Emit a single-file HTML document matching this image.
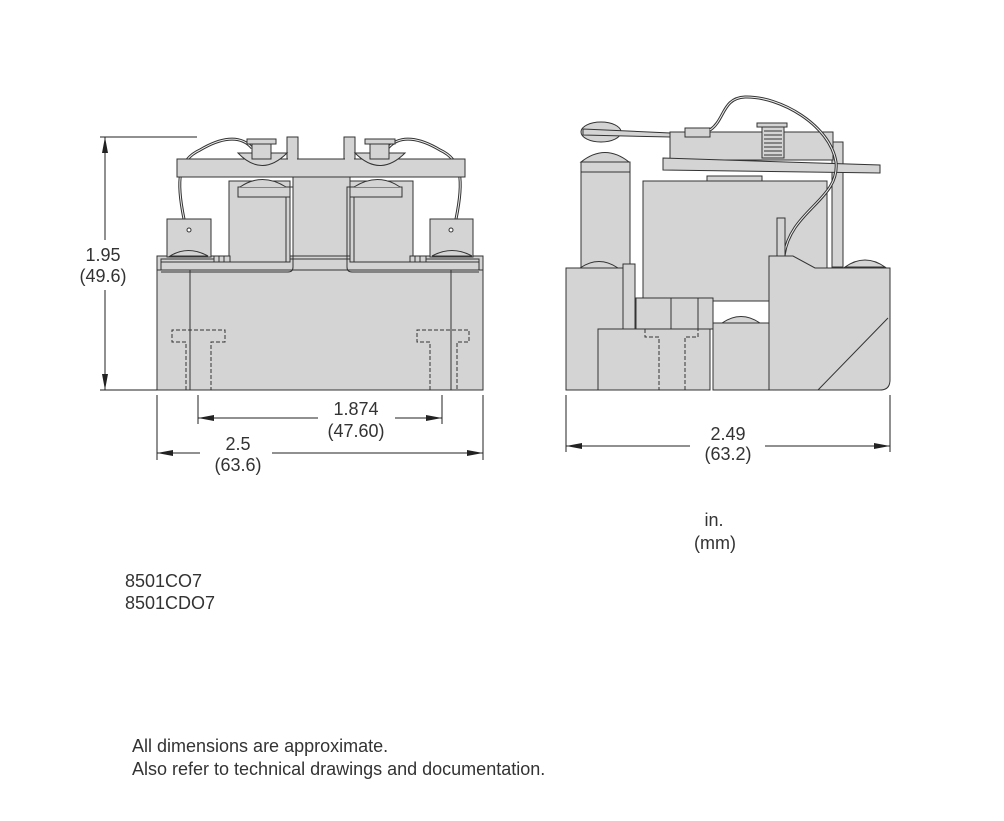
<!DOCTYPE html>
<html><head><meta charset="utf-8"><style>
html,body{margin:0;padding:0;background:#fff;}
svg{display:block;}
text{font-family:"Liberation Sans",Arial,sans-serif;font-size:18px;fill:#333;}
</style></head><body>
<svg width="1004" height="821" viewBox="0 0 1004 821" xmlns="http://www.w3.org/2000/svg">
<g stroke="#333" stroke-width="1" fill="#d4d4d4">
<path d="M184,219 C176,180 178,160 200,150 C220,138 240,134 252,148" fill="none" stroke-width="3"/>
<path d="M184,219 C176,180 178,160 200,150 C220,138 240,134 252,148" fill="none" stroke="#eee" stroke-width="1"/>
<path d="M456,219 C464,180 462,160 440,150 C420,138 400,134 388,148" fill="none" stroke-width="3"/>
<path d="M456,219 C464,180 462,160 440,150 C420,138 400,134 388,148" fill="none" stroke="#eee" stroke-width="1"/>
<path d="M293,177 H350 V270 H355 V293 H346 V320 H327 V348 H314 V320 H296 V293 H287 V270 H293 Z"/>
<line x1="314" y1="330" x2="327" y2="330"/>
<rect x="157" y="270" width="326" height="120"/>
<rect x="157" y="256" width="326" height="14"/>
<rect x="161" y="259" width="318" height="11"/>
<rect x="229" y="181" width="61" height="81"/>
<rect x="350" y="181" width="63" height="81"/>
<path d="M238,187 H293 V267 Q293,272 288,272 H161" fill="none"/>
<path d="M238,197 H286 V262 H161" fill="none"/>
<rect x="238" y="187" width="52" height="10"/>
<path d="M402,187 H347 V267 Q347,272 352,272 H479" fill="none"/>
<rect x="350" y="187" width="52" height="10"/>
<path d="M350,197 H354 V262 H479" fill="none"/>
<path d="M240,187 Q262,172 286,187" />
<path d="M354,187 Q378,172 400,187" />
<rect x="177" y="159" width="288" height="18"/>
<rect x="287" y="137" width="11" height="22"/>
<rect x="344" y="137" width="11" height="22"/>
<rect x="288" y="157" width="9" height="4" stroke="none"/>
<rect x="345" y="157" width="9" height="4" stroke="none"/>
<path d="M238,153 Q262,178 287,153 Z"/>
<path d="M355,153 Q380,178 405,153 Z"/>
<rect x="252" y="144" width="19" height="15"/>
<rect x="247" y="139" width="29" height="5"/>
<rect x="370" y="144" width="19" height="15"/>
<rect x="365" y="139" width="30" height="5"/>
<rect x="167" y="219" width="44" height="38"/>
<circle cx="189" cy="230" r="2" fill="#fff"/>
<path d="M170,256 Q188,245 208,256 Z"/>
<rect x="214" y="256" width="16" height="6"/><line x1="219" y1="256" x2="219" y2="262"/><line x1="224" y1="256" x2="224" y2="262"/>
<rect x="430" y="219" width="43" height="38"/>
<circle cx="451" cy="230" r="2" fill="#fff"/>
<path d="M432,256 Q452,245 472,256 Z"/>
<rect x="410" y="256" width="16" height="6"/><line x1="415" y1="256" x2="415" y2="262"/><line x1="420" y1="256" x2="420" y2="262"/>
<line x1="190" y1="270" x2="190" y2="390"/>
<line x1="451" y1="270" x2="451" y2="390"/>
<path d="M186,390 V342 H172 V330 H225 V342 H211 V390" fill="none" stroke-dasharray="4,2"/>
<path d="M430,390 V342 H417 V330 H469 V342 H457 V390" fill="none" stroke-dasharray="4,2"/>

<rect x="643" y="181" width="184" height="120"/>
<rect x="707" y="176" width="55" height="5"/>
<rect x="832" y="142" width="11" height="125"/>
<rect x="581" y="162" width="49" height="106"/>
<line x1="581" y1="172" x2="630" y2="172"/>
<path d="M581,162 Q605,143 629,162 Z"/>
<ellipse cx="601" cy="132" rx="20" ry="10"/>
<path d="M583,129 L670,133 L670,137 L583,135 Z"/>
<rect x="670" y="132" width="163" height="28"/>
<path d="M663,158 L880,165 L880,173 L663,170 Z"/>
<rect x="685" y="128" width="25" height="9"/>
<rect x="762" y="126" width="22" height="32"/>
<g>
<line x1="764" y1="131" x2="782" y2="131"/><line x1="764" y1="135" x2="782" y2="135"/><line x1="764" y1="139" x2="782" y2="139"/><line x1="764" y1="143" x2="782" y2="143"/><line x1="764" y1="147" x2="782" y2="147"/><line x1="764" y1="151" x2="782" y2="151"/><line x1="764" y1="155" x2="782" y2="155"/>
</g>
<rect x="757" y="123" width="30" height="4"/>
<path d="M710,130 C725,120 722,98 745,97 C780,96 830,125 836,162 C840,200 790,210 784,256" fill="none" stroke-width="3"/>
<path d="M710,130 C725,120 722,98 745,97 C780,96 830,125 836,162 C840,200 790,210 784,256" fill="none" stroke="#eee" stroke-width="1"/>
<rect x="777" y="218" width="8" height="38"/>
<rect x="566" y="268" width="66" height="122"/>
<rect x="623" y="264" width="12" height="66"/>
<path d="M580,268 Q599,255 618,268 Z"/>
<rect x="636" y="298" width="77" height="31"/>
<line x1="671" y1="298" x2="671" y2="329"/>
<line x1="698" y1="298" x2="698" y2="329"/>
<rect x="598" y="329" width="112" height="61"/>
<line x1="713" y1="298" x2="713" y2="390"/>
<path d="M645,329 V337 H659 V390 M685,390 V337 H698 V329" fill="none" stroke-dasharray="4,2"/>
<rect x="713" y="323" width="56" height="67"/>
<path d="M722,323 Q741,310 760,323 Z"/>
<path d="M769,256 H793 L815,268 H890 V380 Q890,390 880,390 H769 Z"/>
<line x1="818" y1="390" x2="888" y2="318"/>
<path d="M845,267 Q865,253 885,267 Z"/>
</g>
<g stroke="#222" stroke-width="1" fill="none">
<line x1="100" y1="137" x2="197" y2="137"/>
<line x1="100" y1="390" x2="157" y2="390"/>
<line x1="105" y1="137" x2="105" y2="240"/>
<line x1="105" y1="290" x2="105" y2="390"/>
<line x1="198" y1="395" x2="198" y2="424"/>
<line x1="442" y1="395" x2="442" y2="424"/>
<line x1="198" y1="418" x2="318" y2="418"/>
<line x1="395" y1="418" x2="442" y2="418"/>
<line x1="157" y1="395" x2="157" y2="460"/>
<line x1="483" y1="395" x2="483" y2="460"/>
<line x1="157" y1="453" x2="200" y2="453"/>
<line x1="272" y1="453" x2="483" y2="453"/>
<line x1="566" y1="395" x2="566" y2="452"/>
<line x1="890" y1="395" x2="890" y2="452"/>
<line x1="566" y1="446" x2="690" y2="446"/>
<line x1="765" y1="446" x2="890" y2="446"/>
</g>
<g fill="#222">
<polygon points="105,137 102,153 108,153"/>
<polygon points="105,390 102,374 108,374"/>
<polygon points="198,418 214,415 214,421"/>
<polygon points="442,418 426,415 426,421"/>
<polygon points="157,453 173,450 173,456"/>
<polygon points="483,453 467,450 467,456"/>
<polygon points="566,446 582,443 582,449"/>
<polygon points="890,446 874,443 874,449"/>
</g>
<g text-anchor="middle">
<text x="103" y="261">1.95</text>
<text x="103" y="282">(49.6)</text>
<text x="356" y="415">1.874</text>
<text x="356" y="437">(47.60)</text>
<text x="238" y="450">2.5</text>
<text x="238" y="471">(63.6)</text>
<text x="728" y="440">2.49</text>
<text x="728" y="460">(63.2)</text>
<text x="714" y="526">in.</text>
<text x="715" y="549">(mm)</text>
</g>
<text x="125" y="587">8501CO7</text>
<text x="125" y="609">8501CDO7</text>
<text x="132" y="752">All dimensions are approximate.</text>
<text x="132" y="775">Also refer to technical drawings and documentation.</text>
</svg>
</body></html>
